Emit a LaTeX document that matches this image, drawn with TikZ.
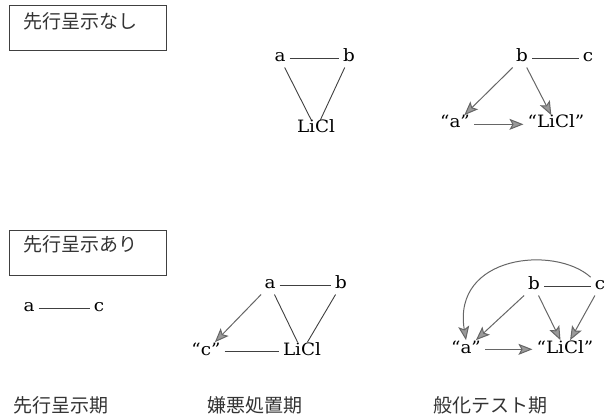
\documentclass[tikz,border=0pt]{standalone}
\usepackage{fontspec}
\newfontfamily\jp{Noto Sans CJK JP}
\newfontfamily\lat{DejaVu Serif}[FakeStretch=1.08]
\usetikzlibrary{arrows.meta}

\begin{document}
\begin{tikzpicture}[
x=1pt, y=-1pt,
term/.style={anchor=base, inner sep=4pt, text height=2ex, text depth=0.3ex, font=\lat\fontsize{17}{20}\selectfont},
jlabel/.style={anchor=base west, inner sep=0pt, font=\jp\fontsize{19}{22}\selectfont, text=black!80},
phasebox/.style={draw=black!75, line width=0.9pt},
link/.style={draw=black!75, line width=0.9pt},
arrow/.style={-{Stealth[length=14pt,width=11pt,inset=3pt,fill=black!40]}, draw=black!60, line width=1pt}
]
\useasboundingbox (0,0) rectangle (607,419);

% 先行呈示なし
\draw[phasebox] (9,5) rectangle (166,50);
\node[jlabel] (none) at (23,29) {先行呈示なし};

\node[term] (a1) at (280,62) {a};
\node[term] (b1) at (349,62) {b};
\node[term] (l1) at (316,133) {LiCl};
\draw[link] (a1.east) -- (b1.west);
\draw[link] (a1) -- (l1);
\draw[link] (b1) -- (l1);

\node[term] (b2) at (522,62) {b};
\node[term] (c2) at (588,62) {c};
\node[term] (qa2) at (455,128) {“a”};
\node[term] (ql2) at (556,128) {“LiCl”};
\draw[link] (b2.east) -- (c2.west);
\draw[arrow] (b2) -- (qa2);
\draw[arrow] (b2) -- (ql2);
\draw[arrow] (qa2.east) -- (ql2.west);

% 先行呈示あり
\draw[phasebox] (9,230) rectangle (166,275);
\node[jlabel] (with) at (23,252) {先行呈示あり};

\node[term] (a3) at (29,312) {a};
\node[term] (c3) at (99,312) {c};
\draw[link] (a3.east) -- (c3.west);

\node[term] (a4) at (270,289) {a};
\node[term] (b4) at (341,289) {b};
\node[term] (qc4) at (206,355) {“c”};
\node[term] (l4) at (302,355) {LiCl};
\draw[link] (a4.east) -- (b4.west);
\draw[arrow] (a4) -- (qc4);
\draw[link] (a4) -- (l4);
\draw[link] (b4) -- (l4);
\draw[link] (qc4.east) -- (l4.west);

\node[term] (b5) at (534,290) {b};
\node[term] (c5) at (600,290) {c};
\node[term] (qa5) at (466,353) {“a”};
\node[term] (ql5) at (565,353) {“LiCl”};
\draw[link] (b5.east) -- (c5.west);
\draw[arrow] (b5) -- (qa5);
\draw[arrow] (b5) -- (ql5);
\draw[arrow] (c5) -- (ql5);
\draw[arrow] (qa5.east) -- (ql5.west);
\draw[arrow] (c5.north west) .. controls (555,245) and (452,255) .. (qa5.north);

% phases
\node[jlabel] (phase1) at (13,412) {先行呈示期};
\node[jlabel] (phase2) at (207,412) {嫌悪処置期};
\node[jlabel] (phase3) at (433,412) {般化テスト期};
\end{tikzpicture}
\end{document}
